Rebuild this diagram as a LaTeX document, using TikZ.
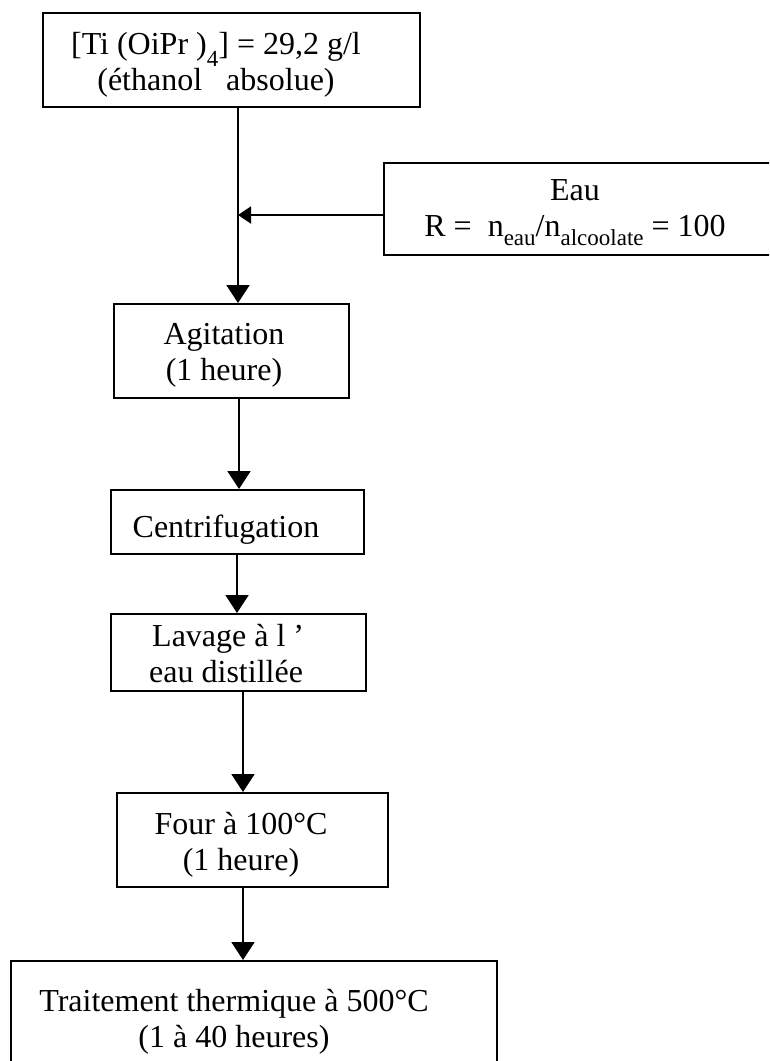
\documentclass[tikz,border=0pt]{standalone}
\usepackage{fontspec}
\setmainfont{Liberation Serif}
\usetikzlibrary{arrows.meta}
\newcommand{\lowsub}[2][9pt]{\raisebox{-#1}{\fontsize{23}{23}\selectfont #2}}
\begin{document}
\begin{tikzpicture}[x=1pt,y=-1pt,
  box/.style={draw, line width=2.1pt, inner sep=0pt, anchor=north west},
  txt/.style={align=center, font=\fontsize{32}{35.5}\selectfont, inner sep=0pt, anchor=base},
  arr/.style={line width=2pt, -{Triangle[length=18pt,width=23pt]}},
  arrh/.style={line width=2pt, -{Triangle[length=13pt,width=17pt]}}]
\useasboundingbox (0,0) rectangle (769,1061);
\clip (0,0) rectangle (769,1061);
% boxes
\node[box, minimum width=377pt, minimum height=94pt] (b1) at (42,12) {};
\node[box, minimum width=420pt, minimum height=92pt] (eau) at (383,162) {};
\node[box, minimum width=235pt, minimum height=94pt] (agit) at (113,303) {};
\node[box, minimum width=253pt, minimum height=64pt] (centri) at (110,489) {};
\node[box, minimum width=255pt, minimum height=77pt] (lavage) at (110,613) {};
\node[box, minimum width=271pt, minimum height=94pt] (four) at (116,792) {};
\node[box, minimum width=486pt, minimum height=140pt] (trait) at (10,960) {};
% texts (base anchor = baseline of the last line)
\node[txt] (t1) at (216,90) {[Ti (OiPr )\lowsub[12pt]{4}] = 29,2 g/l\\(éthanol \ \ absolue)};
\node[txt] (t2) at (575,236) {Eau\\R = \ n\lowsub{eau}/n\lowsub{alcoolate} = 100};
\node[txt] (t3) at (224,380) {Agitation\\(1 heure)};
\node[txt] (t4) at (226,537) {Centrifugation};
\node[txt, align=left, anchor=base west] (t5) at (149,682) {\hspace{3pt}Lavage à l ’\\eau distillée};
\node[txt] (t6) at (241,870) {Four à 100°C\\(1 heure)};
\node[txt] (t7) at (234,1047) {Traitement thermique à 500°C\\(1 à 40 heures)};
% connectors
\coordinate (c1) at (238,0);
\coordinate (j) at (238,215);
\draw[arr] (b1.south -| c1) -- (agit.north -| c1);
\draw[arrh] (eau.west |- j) -- (j);
\coordinate (c2) at (239,0);
\draw[arr] (agit.south -| c2) -- (centri.north -| c2);
\coordinate (c3) at (237,0);
\draw[arr] (centri.south -| c3) -- (lavage.north -| c3);
\coordinate (c4) at (243,0);
\draw[arr] (lavage.south -| c4) -- (four.north -| c4);
\draw[arr] (four.south -| c4) -- (trait.north -| c4);
\end{tikzpicture}
\end{document}
